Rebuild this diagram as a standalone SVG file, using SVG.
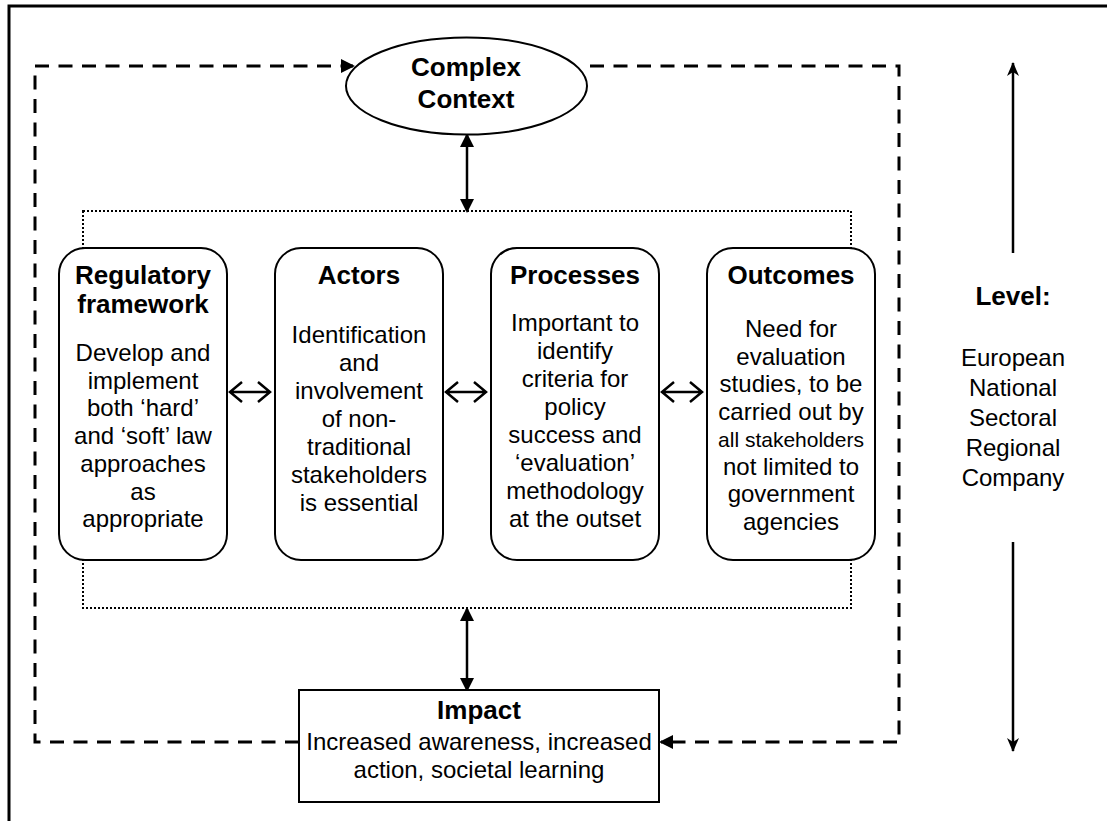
<svg xmlns="http://www.w3.org/2000/svg" width="1107" height="821" viewBox="0 0 1107 821">
<style>
text{font-family:"Liberation Sans",Arial,Helvetica,sans-serif;fill:#000;text-anchor:middle}
.t{font-weight:bold;font-size:26px}
.b{font-size:24px}
.s{font-size:21px}
.box{fill:#fff;stroke:#000;stroke-width:2}
.dash{fill:none;stroke:#000;stroke-width:3;stroke-dasharray:14 9.5}
.ln{fill:none;stroke:#000;stroke-width:2.5}
.hol{fill:none;stroke:#000;stroke-width:2.5;stroke-linejoin:miter}
</style>
<defs>
<marker id="ah" viewBox="0 0 14 14" refX="12" refY="7" markerWidth="14" markerHeight="14" markerUnits="userSpaceOnUse" orient="auto-start-reverse"><path d="M0,0 L14,7 L0,14 z" fill="#000"/></marker>
<marker id="la" viewBox="0 0 14 12" refX="13" refY="6" markerWidth="14" markerHeight="12" markerUnits="userSpaceOnUse" orient="auto"><path d="M0,0 L14,6 L0,12 L4,6 z" fill="#000"/></marker>
</defs>
<path d="M9,821 V6 H1107" fill="none" stroke="#000" stroke-width="3"/>
<rect x="83" y="211" width="768" height="397" fill="none" stroke="#000" stroke-width="2" stroke-dasharray="2 2"/>
<g id="connectors">
<path class="dash" d="M299,742 H35 V66 H353" marker-end="url(#ah)"/>
<path class="dash" d="M590,66 H899 V742 H661" marker-end="url(#ah)"/>
<path class="ln" d="M467,135 V211" marker-start="url(#ah)" marker-end="url(#ah)"/>
<path class="ln" d="M467,609 V690" marker-start="url(#ah)" marker-end="url(#ah)"/>
<path class="hol" d="M242,382 L230,392 L242,402 M258,382 L270,392 L258,402 M230,392 H270"/>
<path class="hol" d="M458,382 L446,392 L458,402 M474,382 L486,392 L474,402 M446,392 H486"/>
<path class="hol" d="M674,382 L662,392 L674,402 M690,382 L702,392 L690,402 M662,392 H702"/>
<path class="ln" d="M1013,253 V63" marker-end="url(#la)"/>
<path class="ln" d="M1013,542 V751" marker-end="url(#la)"/>
</g>
<g id="context">
<ellipse cx="466.5" cy="86" rx="120.5" ry="48.5" class="box"/>
<text class="t" x="466" y="76">Complex</text>
<text class="t" x="466" y="108">Context</text>
</g>
<g id="regulatory">
<rect x="59" y="248" width="168" height="312" rx="26" class="box"/>
<text class="t" x="143" y="284">Regulatory</text>
<text class="t" x="143" y="313">framework</text>
<text class="b" x="143" y="361">Develop and</text>
<text class="b" x="143" y="389">implement</text>
<text class="b" x="143" y="416">both ‘hard’</text>
<text class="b" x="143" y="444">and ‘soft’ law</text>
<text class="b" x="143" y="472">approaches</text>
<text class="b" x="143" y="500">as</text>
<text class="b" x="143" y="527">appropriate</text>
</g>
<g id="actors">
<rect x="275" y="248" width="168" height="312" rx="26" class="box"/>
<text class="t" x="359" y="284">Actors</text>
<text class="b" x="359" y="343">Identification</text>
<text class="b" x="359" y="371">and</text>
<text class="b" x="359" y="399">involvement</text>
<text class="b" x="359" y="427">of non-</text>
<text class="b" x="359" y="455">traditional</text>
<text class="b" x="359" y="483">stakeholders</text>
<text class="b" x="359" y="511">is essential</text>
</g>
<g id="processes">
<rect x="491" y="248" width="168" height="312" rx="26" class="box"/>
<text class="t" x="575" y="284">Processes</text>
<text class="b" x="575" y="331">Important to</text>
<text class="b" x="575" y="359">identify</text>
<text class="b" x="575" y="387">criteria for</text>
<text class="b" x="575" y="415">policy</text>
<text class="b" x="575" y="443">success and</text>
<text class="b" x="575" y="471">‘evaluation’</text>
<text class="b" x="575" y="499">methodology</text>
<text class="b" x="575" y="527">at the outset</text>
</g>
<g id="outcomes">
<rect x="707" y="248" width="168" height="312" rx="26" class="box"/>
<text class="t" x="791" y="284">Outcomes</text>
<text class="b" x="791" y="337">Need for</text>
<text class="b" x="791" y="365">evaluation</text>
<text class="b" x="791" y="392">studies, to be</text>
<text class="b" x="791" y="420">carried out by</text>
<text class="s" x="791" y="447">all stakeholders</text>
<text class="b" x="791" y="475">not limited to</text>
<text class="b" x="791" y="502">government</text>
<text class="b" x="791" y="530">agencies</text>
</g>
<g id="impact">
<rect x="299" y="690" width="360" height="112" class="box"/>
<text class="t" x="479" y="719">Impact</text>
<text class="b" x="479" y="750">Increased awareness, increased</text>
<text class="b" x="479" y="778">action, societal learning</text>
</g>
<g id="level">
<text class="t" x="1013" y="305">Level:</text>
<text class="b" x="1013" y="366">European</text>
<text class="b" x="1013" y="396">National</text>
<text class="b" x="1013" y="426">Sectoral</text>
<text class="b" x="1013" y="456">Regional</text>
<text class="b" x="1013" y="486">Company</text>
</g>
</svg>
